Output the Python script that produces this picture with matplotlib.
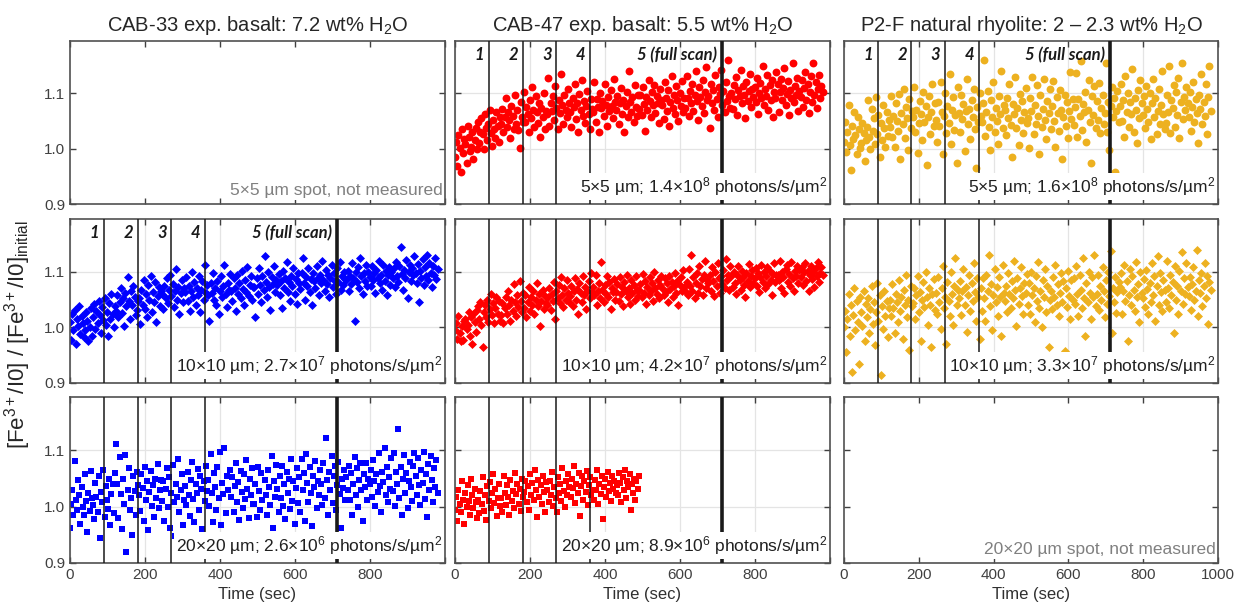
import matplotlib.pyplot as plt
import numpy as np

plt.rcParams['font.family'] = 'Liberation Sans'
plt.rcParams['mathtext.fontset'] = 'custom'
plt.rcParams['mathtext.rm'] = 'Liberation Sans'
plt.rcParams['mathtext.it'] = 'Liberation Sans:italic'
plt.rcParams['mathtext.bf'] = 'Liberation Sans:bold'

# run lengths (sec); CAB-47 20x20 run stopped early
full_run = 980
short_run = 490

# Fe3+/I0 normalised to initial value (one row ~ 61 s)
cab47_5um = [
    0.985, 1.012, 0.968, 1.025, 1.002, 0.958, 1.035, 0.992, 1.018, 1.008, 0.975, 1.042, 1.021, 0.996, 1.004, 1.030, 0.982, 1.015, 1.038, 1.000,
    1.048, 1.010, 1.030, 1.055, 1.026, 0.999, 1.062, 1.038, 1.015, 1.045, 1.070, 1.028, 1.005, 1.052, 1.035, 1.020, 1.066, 1.042, 1.012, 1.058,
    1.045, 1.072, 1.030, 1.058, 1.091, 1.040, 1.066, 1.052, 1.020, 1.078, 1.060, 1.036, 1.098, 1.044, 1.070, 1.034, 1.001, 1.085, 1.057, 1.048,
    1.103, 1.048, 1.076, 1.062, 1.030, 1.088, 1.055, 1.112, 1.070, 1.040, 1.095, 1.066, 1.047, 1.082, 1.021, 1.073, 1.058, 1.101, 1.035, 1.068,
    1.062, 1.128, 1.041, 1.083, 1.069, 1.095, 1.052, 1.113, 1.074, 1.036, 1.088, 1.064, 1.135, 1.079, 1.045, 1.097, 1.070, 1.058, 1.108, 1.083,
    1.066, 1.040, 1.092, 1.075, 1.118, 1.054, 1.083, 1.030, 1.099, 1.071, 1.125, 1.060, 1.087, 1.046, 1.078, 1.104, 1.063, 1.035, 1.090, 1.072,
    1.066, 1.121, 1.048, 1.090, 1.076, 1.031, 1.101, 1.073, 1.087, 1.059, 1.117, 1.080, 1.042, 1.094, 1.069, 1.106, 1.078, 1.055, 1.126, 1.085,
    1.070, 1.096, 1.044, 1.082, 1.110, 1.063, 1.088, 1.031, 1.077, 1.102, 1.058, 1.140, 1.084, 1.067, 1.093, 1.049, 1.115, 1.075, 1.060, 1.098,
    1.072, 1.098, 1.061, 1.112, 1.081, 1.033, 1.093, 1.070, 1.124, 1.086, 1.057, 1.103, 1.079, 1.116, 1.065, 1.095, 1.083, 1.047, 1.109, 1.088,
    1.080, 1.054, 1.120, 1.091, 1.068, 1.106, 1.042, 1.085, 1.131, 1.074, 1.097, 1.062, 1.113, 1.089, 1.050, 1.100, 1.077, 1.123, 1.066, 1.092,
    1.074, 1.132, 1.091, 1.060, 1.105, 1.082, 1.118, 1.069, 1.097, 1.140, 1.086, 1.052, 1.111, 1.093, 1.077, 1.125, 1.064, 1.102, 1.148, 1.088,
    1.095, 1.038, 1.117, 1.083, 1.106, 1.071, 1.134, 1.090, 1.058, 1.112, 1.099, 1.143, 1.079, 1.104, 1.066, 1.121, 1.087, 1.160, 1.095, 1.073,
    1.100, 1.072, 1.116, 1.090, 1.130, 1.061, 1.107, 1.095, 1.142, 1.082, 1.113, 1.098, 1.055, 1.121, 1.087, 1.104, 1.136, 1.075, 1.109, 1.093,
    1.112, 1.085, 1.128, 1.063, 1.101, 1.119, 1.092, 1.150, 1.079, 1.108, 1.096, 1.133, 1.070, 1.115, 1.088, 1.124, 1.058, 1.103, 1.091, 1.138,
    1.118, 1.066, 1.103, 1.127, 1.088, 1.110, 1.146, 1.079, 1.099, 1.122, 1.061, 1.107, 1.092, 1.155, 1.084, 1.113, 1.097, 1.128, 1.069, 1.105,
    1.094, 1.125, 1.076, 1.110, 1.139, 1.089, 1.117, 1.064, 1.102, 1.131, 1.085, 1.156, 1.098, 1.120, 1.073, 1.108, 1.134, 1.091, 1.114, 1.102,
]
p2f_5um = [
    1.012, 1.048, 0.995, 1.031, 1.080, 1.006, 0.962, 1.042, 1.018, 1.067, 1.025, 0.990, 1.058, 1.035, 1.002, 1.010, 1.046, 1.029, 0.978, 1.015,
    1.040, 1.088, 1.021, 0.999, 1.072, 1.033, 1.055, 1.008, 1.094, 1.026, 1.061, 0.985, 1.047, 1.015, 1.079, 1.038, 1.003, 1.066, 1.023, 1.052,
    1.040, 1.095, 1.021, 1.060, 1.003, 1.083, 1.050, 1.032, 1.099, 0.982, 1.064, 1.044, 1.108, 1.019, 1.075, 1.055, 0.998, 1.090, 1.037, 1.068,
    1.058, 1.112, 1.030, 1.071, 0.992, 1.046, 1.087, 1.062, 1.015, 1.103, 1.049, 1.078, 0.970, 1.057, 1.095, 1.026, 1.066, 1.118, 1.041, 1.083,
    1.052, 1.012, 1.085, 1.041, 1.120, 1.066, 0.990, 1.059, 1.100, 1.028, 1.077, 1.046, 1.135, 1.008, 1.070, 1.093, 1.034, 1.061, 0.975, 1.112,
    1.064, 1.030, 1.097, 1.053, 1.081, 0.996, 1.068, 1.126, 1.044, 1.072, 1.018, 1.089, 1.057, 1.108, 1.035, 0.965, 1.076, 1.049, 1.101, 1.060,
    1.048, 1.082, 1.160, 1.023, 1.067, 1.105, 1.040, 0.998, 1.088, 1.058, 1.121, 1.031, 1.074, 1.050, 1.009, 1.096, 1.063, 1.140, 1.037, 1.079,
    1.070, 1.024, 1.092, 1.056, 1.117, 1.043, 0.985, 1.081, 1.062, 1.130, 1.038, 1.074, 1.007, 1.099, 1.052, 1.086, 1.029, 1.066, 1.110, 1.047,
    1.055, 1.002, 1.091, 1.068, 1.130, 1.026, 1.080, 1.045, 1.115, 1.060, 0.990, 1.098, 1.039, 1.072, 1.126, 1.052, 1.017, 1.086, 1.064, 1.108,
    1.036, 1.078, 1.122, 1.050, 1.004, 1.093, 1.065, 1.033, 1.107, 1.071, 0.982, 1.058, 1.097, 1.042, 1.084, 1.020, 1.069, 1.138, 1.054, 1.090,
    1.043, 1.075, 1.137, 1.021, 1.090, 1.059, 1.158, 1.034, 1.081, 1.066, 1.102, 1.012, 1.070, 1.124, 1.048, 0.975, 1.095, 1.061, 1.113, 1.038,
    1.087, 1.052, 1.119, 1.028, 1.073, 1.098, 1.045, 1.064, 1.156, 1.031, 1.085, 0.998, 1.077, 1.112, 1.057, 1.091, 0.958, 1.068, 1.104, 1.049,
    1.078, 1.118, 1.050, 1.089, 1.022, 1.132, 1.067, 1.101, 1.040, 1.084, 1.062, 1.145, 1.030, 1.092, 1.071, 1.010, 1.106, 1.056, 1.125, 1.083,
    1.061, 1.095, 1.037, 1.114, 1.072, 1.048, 1.100, 1.017, 1.083, 1.127, 1.058, 1.091, 1.026, 1.069, 1.109, 1.044, 1.080, 1.140, 1.063, 1.035,
    1.047, 1.097, 1.066, 1.150, 1.028, 1.088, 1.074, 1.115, 1.040, 1.102, 1.061, 1.128, 1.019, 1.085, 1.155, 1.053, 1.094, 1.070, 1.111, 1.082,
    1.058, 1.103, 1.032, 1.076, 1.121, 1.049, 1.090, 1.065, 1.010, 1.098, 1.072, 1.135, 1.044, 1.084, 1.060, 1.117, 1.026, 1.093, 1.150, 1.069,
]
cab33_10um = [
    1.010, 0.978, 1.025, 0.995, 1.032, 0.970, 1.015, 1.003, 1.038, 0.988, 1.020, 1.008, 0.982, 0.996, 1.028, 1.012, 0.975, 1.001, 1.035, 0.985,
    1.018, 1.042, 0.998, 1.030, 1.008, 1.047, 1.022, 0.990, 1.036, 1.014, 1.052, 1.004, 1.027, 0.985, 1.044, 1.016, 1.060, 1.024, 1.000, 1.038,
    1.030, 1.058, 1.018, 1.045, 1.070, 1.026, 1.052, 1.003, 1.062, 1.038, 1.090, 1.048, 1.015, 1.066, 1.040, 1.075, 1.055, 1.022, 1.032, 1.047,
    1.052, 1.006, 1.068, 1.041, 1.085, 1.034, 1.060, 1.019, 1.077, 1.050, 1.092, 1.028, 1.064, 1.045, 1.082, 1.010, 1.056, 1.072, 1.038, 1.066,
    1.060, 1.033, 1.074, 1.052, 1.088, 1.044, 1.068, 1.095, 1.057, 1.078, 1.036, 1.065, 1.105, 1.050, 1.072, 1.024, 1.061, 1.085, 1.046, 1.070,
    1.063, 1.090, 1.048, 1.075, 1.030, 1.066, 1.100, 1.054, 1.081, 1.040, 1.071, 1.058, 1.093, 1.027, 1.067, 1.084, 1.050, 1.113, 1.062, 1.076,
    1.058, 1.012, 1.079, 1.062, 1.098, 1.050, 1.070, 1.041, 1.083, 1.025, 1.066, 1.092, 1.055, 1.075, 1.112, 1.060, 1.036, 1.080, 1.067, 1.096,
    1.065, 1.047, 1.088, 1.071, 1.030, 1.094, 1.060, 1.079, 1.053, 1.102, 1.069, 1.040, 1.085, 1.064, 1.108, 1.056, 1.077, 1.093, 1.049, 1.073,
    1.072, 1.018, 1.089, 1.060, 1.106, 1.077, 1.045, 1.093, 1.067, 1.128, 1.082, 1.055, 1.100, 1.073, 1.031, 1.090, 1.078, 1.110, 1.063, 1.086,
    1.076, 1.096, 1.058, 1.084, 1.035, 1.101, 1.070, 1.089, 1.117, 1.064, 1.081, 1.048, 1.093, 1.074, 1.107, 1.060, 1.087, 1.042, 1.098, 1.079,
    1.069, 1.097, 1.124, 1.080, 1.050, 1.091, 1.075, 1.106, 1.063, 1.087, 1.040, 1.098, 1.083, 1.071, 1.110, 1.088, 1.058, 1.095, 1.079, 1.120,
    1.085, 1.066, 1.103, 1.078, 1.094, 1.055, 1.089, 1.112, 1.072, 1.097, 1.083, 1.060, 1.107, 1.081, 1.118, 1.068, 1.092, 1.076, 1.100, 1.087,
    1.085, 1.102, 1.066, 1.093, 1.078, 1.116, 1.089, 1.012, 1.099, 1.081, 1.108, 1.070, 1.125, 1.092, 1.060, 1.097, 1.084, 1.113, 1.075, 1.100,
    1.091, 1.074, 1.110, 1.086, 1.098, 1.062, 1.104, 1.088, 1.120, 1.079, 1.095, 1.067, 1.113, 1.083, 1.101, 1.058, 1.094, 1.108, 1.077, 1.099,
    1.088, 1.106, 1.072, 1.118, 1.093, 1.081, 1.110, 1.145, 1.096, 1.068, 1.103, 1.088, 1.121, 1.052, 1.099, 1.112, 1.084, 1.107, 1.094, 1.128,
    1.097, 1.080, 1.114, 1.045, 1.102, 1.089, 1.123, 1.076, 1.108, 1.092, 1.130, 1.085, 1.116, 1.098, 1.072, 1.111, 1.094, 1.125, 1.087, 1.105,
]
cab47_10um = [
    0.995, 1.008, 0.980, 1.020, 0.990, 0.975, 1.002, 0.978, 1.012, 1.015, 0.998, 1.005, 1.027, 0.985, 1.018, 0.970, 1.025, 1.010, 0.992, 1.032,
    1.038, 1.015, 1.045, 1.005, 0.965, 1.027, 1.040, 1.018, 1.050, 1.010, 1.033, 1.060, 1.022, 1.044, 1.008, 1.035, 1.055, 1.025, 1.048, 1.012,
    1.022, 1.044, 1.008, 1.035, 1.055, 1.025, 1.065, 1.040, 1.012, 1.050, 1.030, 1.078, 1.045, 1.020, 1.058, 1.037, 1.083, 1.048, 1.028, 1.062,
    1.035, 1.058, 1.018, 1.046, 1.072, 1.030, 1.054, 1.040, 1.066, 1.025, 1.050, 1.080, 1.038, 1.060, 1.002, 1.047, 1.068, 1.033, 1.056, 1.044,
    1.040, 1.055, 1.070, 1.032, 1.060, 1.048, 1.082, 1.015, 1.066, 1.052, 1.076, 1.044, 1.090, 1.058, 1.036, 1.070, 1.050, 1.085, 1.062, 1.046,
    1.057, 1.074, 1.038, 1.065, 1.088, 1.050, 1.069, 1.025, 1.079, 1.061, 1.045, 1.092, 1.059, 1.072, 1.034, 1.066, 1.083, 1.052, 1.098, 1.063,
    1.072, 1.058, 1.094, 1.040, 1.066, 1.080, 1.052, 1.118, 1.068, 1.045, 1.076, 1.060, 1.092, 1.055, 1.082, 1.034, 1.070, 1.063, 1.087, 1.050,
    1.064, 1.078, 1.048, 1.090, 1.060, 1.073, 1.038, 1.082, 1.066, 1.095, 1.054, 1.070, 1.043, 1.086, 1.061, 1.076, 1.050, 1.092, 1.068, 1.057,
    1.068, 1.078, 1.055, 1.096, 1.062, 1.084, 1.042, 1.073, 1.058, 1.090, 1.066, 1.080, 1.048, 1.100, 1.070, 1.060, 1.085, 1.052, 1.076, 1.093,
    1.071, 1.058, 1.088, 1.064, 1.079, 1.046, 1.092, 1.069, 1.082, 1.055, 1.074, 1.097, 1.061, 1.084, 1.040, 1.077, 1.090, 1.066, 1.103, 1.072,
    1.065, 1.082, 1.058, 1.105, 1.074, 1.130, 1.066, 1.090, 1.052, 1.080, 1.098, 1.062, 1.110, 1.075, 1.087, 1.058, 1.095, 1.120, 1.070, 1.085,
    1.079, 1.094, 1.066, 1.108, 1.083, 1.057, 1.099, 1.074, 1.115, 1.088, 1.062, 1.093, 1.078, 1.104, 1.070, 1.123, 1.086, 1.095, 1.067, 1.110,
    1.092, 1.072, 1.100, 1.080, 1.060, 1.095, 1.110, 1.085, 1.068, 1.102, 1.090, 1.076, 1.055, 1.098, 1.083, 1.114, 1.072, 1.092, 1.104, 1.080,
    1.088, 1.106, 1.075, 1.097, 1.063, 1.090, 1.112, 1.082, 1.099, 1.070, 1.093, 1.108, 1.078, 1.101, 1.085, 1.058, 1.096, 1.116, 1.081, 1.094,
    1.095, 1.085, 1.120, 1.070, 1.100, 1.090, 1.062, 1.105, 1.112, 1.082, 1.096, 1.075, 1.118, 1.088, 1.065, 1.102, 1.093, 1.110, 1.080, 1.104,
    1.090, 1.108, 1.076, 1.099, 1.115, 1.084, 1.102, 1.066, 1.094, 1.111, 1.087, 1.100, 1.073, 1.106, 1.092, 1.117, 1.081, 1.098, 1.109, 1.095,
]
p2f_10um = [
    1.000, 1.030, 0.955, 1.015, 1.060, 0.985, 1.040, 0.920, 1.022, 1.070, 0.995, 1.048, 1.010, 0.935, 1.055, 1.028, 1.003, 1.065, 0.975, 1.042,
    1.018, 1.052, 0.990, 1.034, 1.075, 1.006, 1.045, 0.968, 1.027, 1.080, 1.012, 1.058, 0.915, 1.038, 0.998, 1.066, 1.021, 1.047, 0.982, 1.035,
    1.050, 1.020, 1.078, 1.035, 0.990, 1.060, 1.045, 1.010, 1.085, 1.030, 1.055, 0.980, 1.068, 1.040, 1.095, 1.018, 1.050, 0.960, 1.075, 1.038,
    1.044, 1.070, 1.015, 1.058, 1.092, 1.028, 1.063, 0.975, 1.049, 1.082, 1.036, 1.100, 1.054, 1.005, 1.071, 1.040, 0.965, 1.060, 1.087, 1.032,
    1.062, 1.025, 1.090, 1.045, 0.998, 1.070, 1.110, 1.035, 1.055, 0.970, 1.082, 1.048, 1.020, 1.100, 1.060, 1.005, 1.075, 1.125, 1.040, 1.068,
    1.052, 1.084, 1.022, 1.066, 1.105, 1.041, 1.073, 0.992, 1.058, 1.094, 1.030, 1.079, 1.048, 1.115, 1.063, 1.012, 1.088, 1.055, 0.980, 1.070,
    1.030, 1.088, 1.052, 1.012, 1.095, 1.065, 1.130, 1.038, 1.078, 0.995, 1.058, 1.105, 1.045, 1.072, 1.020, 1.090, 1.055, 0.985, 1.112, 1.062,
    1.047, 1.075, 1.028, 1.097, 1.060, 1.035, 1.083, 1.052, 1.120, 1.068, 1.002, 1.088, 1.043, 1.070, 1.108, 1.056, 1.025, 1.080, 1.061, 1.096,
    1.040, 1.080, 1.025, 1.100, 1.058, 1.070, 1.010, 1.092, 1.048, 1.118, 1.035, 1.065, 1.000, 1.085, 1.055, 1.105, 1.028, 1.075, 0.965, 1.050,
    1.066, 1.033, 1.090, 1.054, 1.112, 1.041, 1.078, 1.020, 1.062, 1.098, 1.046, 1.083, 0.958, 1.070, 1.037, 1.101, 1.057, 1.015, 1.086, 1.049,
    1.088, 1.042, 1.110, 1.060, 1.020, 1.095, 1.068, 1.035, 1.125, 1.052, 0.985, 1.080, 1.045, 1.100, 1.062, 1.015, 1.090, 1.055, 1.130, 1.038,
    1.060, 1.095, 1.032, 1.074, 1.050, 1.108, 1.066, 1.018, 1.085, 1.043, 1.099, 1.057, 1.138, 0.990, 1.071, 1.045, 1.090, 1.026, 1.064, 1.082,
    1.072, 1.098, 1.025, 1.065, 1.112, 1.048, 1.083, 0.975, 1.058, 1.105, 1.040, 1.092, 1.068, 1.030, 1.118, 1.055, 1.078, 1.010, 1.100, 1.062,
    1.053, 1.087, 1.036, 1.103, 1.069, 1.024, 1.080, 1.046, 1.115, 1.058, 1.092, 1.012, 1.074, 1.128, 1.041, 1.097, 1.063, 1.030, 1.085, 1.067,
    1.045, 1.120, 1.070, 1.035, 1.095, 1.058, 1.082, 0.990, 1.110, 1.050, 1.075, 1.025, 1.102, 1.065, 1.135, 1.042, 1.088, 1.060, 1.115, 1.072,
    1.056, 1.090, 1.031, 1.078, 1.108, 1.049, 1.066, 1.140, 1.020, 1.085, 1.062, 1.098, 1.038, 1.074, 1.116, 1.052, 1.093, 1.007, 1.081, 1.068,
]
cab33_20um = [
    0.962, 1.005, 1.030, 0.985, 1.082, 1.012, 0.995, 1.048, 1.020, 0.970, 1.035, 1.000, 0.985, 1.058, 1.010, 0.955, 1.025, 0.992, 1.064, 1.015,
    1.003, 0.978, 1.042, 1.018, 0.990, 1.055, 0.945, 1.027, 1.008, 1.066, 0.982, 1.036, 1.012, 0.996, 1.050, 0.968, 1.022, 1.040, 0.988, 1.060,
    1.112, 1.040, 0.980, 1.088, 1.022, 0.960, 1.050, 1.005, 1.092, 0.920, 1.030, 1.068, 0.995, 1.015, 0.950, 1.055, 1.028, 0.985, 1.062, 1.038,
    1.020, 0.992, 1.058, 1.033, 0.975, 1.070, 1.012, 1.045, 0.958, 1.026, 1.064, 1.002, 1.038, 0.982, 1.050, 1.015, 1.076, 0.998, 1.030, 1.047,
    1.010, 1.045, 0.975, 1.032, 1.068, 1.000, 1.052, 0.962, 1.025, 1.075, 1.008, 0.948, 1.040, 1.018, 1.085, 0.990, 1.030, 1.058, 0.968, 1.012,
    1.036, 1.003, 1.062, 1.021, 0.984, 1.048, 1.079, 1.014, 0.972, 1.041, 1.025, 1.067, 0.995, 1.055, 1.031, 0.960, 1.046, 1.010, 1.072, 1.028,
    1.048, 1.002, 1.093, 1.025, 0.972, 1.060, 1.035, 0.995, 1.070, 1.015, 1.098, 0.968, 1.042, 1.022, 1.105, 0.988, 1.055, 1.030, 0.950, 1.065,
    1.018, 1.052, 0.990, 1.036, 1.078, 1.008, 1.044, 0.976, 1.063, 1.027, 0.998, 1.058, 1.014, 1.083, 1.032, 0.980, 1.049, 1.021, 1.068, 1.004,
    1.005, 1.040, 0.982, 1.070, 1.028, 0.995, 1.060, 1.012, 0.945, 1.048, 1.020, 0.985, 1.065, 1.035, 1.003, 1.090, 0.962, 1.045, 1.018, 1.075,
    1.032, 0.990, 1.055, 1.016, 1.073, 1.002, 1.040, 0.978, 1.062, 1.024, 1.050, 0.996, 1.085, 1.011, 1.046, 0.970, 1.034, 1.068, 1.006, 1.053,
    0.990, 1.085, 1.030, 1.060, 0.975, 1.093, 1.042, 1.008, 1.070, 1.025, 0.965, 1.055, 1.035, 1.082, 0.998, 1.045, 1.020, 1.065, 1.040, 1.003,
    1.078, 1.015, 1.123, 1.048, 0.985, 1.062, 1.030, 1.090, 1.007, 1.055, 1.072, 0.995, 1.038, 1.080, 1.022, 0.962, 1.050, 1.034, 1.066, 1.012,
    1.052, 1.030, 1.072, 1.012, 1.060, 0.985, 1.040, 1.088, 1.020, 1.068, 1.000, 1.048, 1.078, 1.030, 0.975, 1.058, 1.035, 1.078, 1.012, 1.050,
    1.040, 1.066, 1.018, 1.083, 1.045, 1.002, 1.058, 1.027, 1.095, 1.036, 0.990, 1.062, 1.044, 1.105, 1.021, 1.070, 1.008, 1.052, 1.031, 1.087,
    1.028, 1.095, 1.002, 1.062, 1.040, 1.138, 1.015, 1.070, 0.985, 1.050, 1.092, 1.025, 1.060, 0.998, 1.045, 1.080, 1.035, 1.010, 1.072, 1.095,
    1.054, 1.020, 1.086, 1.038, 1.003, 1.065, 1.042, 1.097, 1.013, 1.058, 0.982, 1.076, 1.030, 1.090, 1.047, 1.008, 1.068, 1.035, 1.083, 1.025,
]
cab47_20um = [
    0.995, 1.018, 0.975, 1.030, 1.005, 0.990, 1.045, 1.012, 0.970, 1.025, 1.000, 1.038, 1.010, 0.985, 1.050, 1.020, 0.998, 1.032, 1.008, 0.980,
    1.012, 0.988, 1.028, 1.004, 1.052, 0.993, 1.020, 0.976, 1.036, 1.010, 1.044, 0.998, 1.025, 1.058, 1.006, 1.032, 0.984, 1.016, 1.040, 1.002,
    1.015, 0.990, 1.055, 1.025, 1.003, 1.038, 1.018, 0.985, 1.048, 1.010, 1.028, 0.998, 1.060, 1.022, 1.040, 1.005, 1.032, 0.992, 1.050, 1.018,
    1.026, 1.045, 1.008, 1.036, 0.995, 1.058, 1.021, 1.042, 1.012, 1.066, 1.030, 0.982, 1.048, 1.017, 1.038, 1.004, 1.054, 1.027, 0.990, 1.044,
    1.030, 1.008, 1.045, 1.020, 1.062, 1.002, 1.035, 1.015, 0.990, 1.052, 1.025, 1.040, 1.010, 1.068, 1.028, 1.000, 1.045, 1.020, 1.058, 1.035,
    1.018, 1.050, 1.033, 1.072, 1.006, 1.041, 1.024, 1.060, 0.984, 1.037, 1.055, 1.012, 1.046, 1.027, 1.064, 1.003, 1.039, 1.052, 1.020, 1.030,
    1.012, 1.048, 1.030, 1.065, 1.005, 1.040, 1.022, 1.055, 0.978, 1.035, 1.050, 1.018, 1.062, 1.028, 1.042, 1.010, 1.055, 1.032, 1.045, 1.025,
    1.038, 1.020, 1.060, 1.042, 1.008, 1.052, 1.030, 1.066, 1.015, 1.045, 1.035, 1.058, 0.995, 1.040, 1.025, 1.050, 1.012, 1.046, 1.032, 1.055,
]

titles = ["CAB-33 exp. basalt: 7.2 wt% H$_2$O",
          "CAB-47 exp. basalt: 5.5 wt% H$_2$O",
          "P2-F natural rhyolite: 2 \u2013 2.3 wt% H$_2$O"]

# scan boundaries (sec) and their labels
scan_times = [90, 180, 270, 360, 711]
scan_labels = ["1", "2", "3", "4", "5 (full scan)"]

# rows: 5x5, 10x10, 20x20 um spots; cols: CAB-33, CAB-47, P2-F
series = [
    [None, (cab47_5um, full_run), (p2f_5um, full_run)],
    [(cab33_10um, full_run), (cab47_10um, full_run), (p2f_10um, full_run)],
    [(cab33_20um, full_run), (cab47_20um, short_run), None],
]
notes = [
    ["5\u00d75 \u00b5m spot, not measured",
     "5\u00d75 \u00b5m; 1.4\u00d710$^8$ photons/s/\u00b5m$^2$",
     "5\u00d75 \u00b5m; 1.6\u00d710$^8$ photons/s/\u00b5m$^2$"],
    ["10\u00d710 \u00b5m; 2.7\u00d710$^7$ photons/s/\u00b5m$^2$",
     "10\u00d710 \u00b5m; 4.2\u00d710$^7$ photons/s/\u00b5m$^2$",
     "10\u00d710 \u00b5m; 3.3\u00d710$^7$ photons/s/\u00b5m$^2$"],
    ["20\u00d720 \u00b5m; 2.6\u00d710$^6$ photons/s/\u00b5m$^2$",
     "20\u00d720 \u00b5m; 8.9\u00d710$^6$ photons/s/\u00b5m$^2$",
     "20\u00d720 \u00b5m spot, not measured"],
]
labelled = [(0, 1), (0, 2), (1, 0)]

colors = ["#0000ff", "#ff0000", "#edb120"]
markers = [("o", 32), ("D", 21), ("s", 21)]

W, H = 1238, 608
cols_px = [(70, 445), (455, 830), (844, 1218)]
rows_px = [(41, 204), (219, 383), (397, 563)]

fig = plt.figure(figsize=(W / 100, H / 100), dpi=100)

for r in range(3):
    for c in range(3):
        l, rr = cols_px[c]
        t, b = rows_px[r]
        ax = fig.add_axes([l / W, 1 - b / H, (rr - l) / W, (b - t) / H])
        ax.set_xlim(0, 1000)
        ax.set_ylim(0.9, 1.195)
        ax.set_xticks([0, 200, 400, 600, 800, 1000])
        ax.set_yticks([0.9, 1.0, 1.1])
        ax.tick_params(direction="in", top=True, right=True, length=4, width=1,
                       color="#404040", labelsize=11, labelcolor="#404040")
        for s in ax.spines.values():
            s.set_color("#505050")
            s.set_linewidth(1.2)
        if c == 0:
            ax.set_yticklabels(["0.9", "1.0", "1.1"])
        else:
            ax.set_yticklabels([])
        if r == 2:
            lab = ["0", "200", "400", "600", "800", "1000" if c == 2 else ""]
            ax.set_xticklabels(lab)
            ax.set_xlabel("Time (sec)", fontsize=12, color="#303030", labelpad=4)
        else:
            ax.set_xticklabels([])

        note_color = "#202020"
        if series[r][c] is None:
            note_color = "#808080"
        else:
            vals, end = series[r][c]
            tt = np.linspace(0, end, len(vals))
            ax.grid(True, color="#e4e4e4", lw=0.9)
            ax.set_axisbelow(True)
            m, ms = markers[r]
            ax.scatter(tt, vals, s=ms, marker=m, color=colors[c], linewidths=0, zorder=2)
            for i, x in enumerate(scan_times):
                lw = 2.6 if i == len(scan_times) - 1 else 1.1
                ax.axvline(x, color="#1a1a1a", lw=lw, zorder=3)
            if (r, c) in labelled:
                for x, s in zip(scan_times, scan_labels):
                    ax.text(x - 12, 0.915, s, transform=ax.get_xaxis_transform(),
                            ha="right", va="center", fontsize=12, fontfamily="Lato",
                            fontweight="bold", fontstyle="italic", color="#1a1a1a", zorder=4)

        ax.text(0.993, 0.035, notes[r][c], transform=ax.transAxes, ha="right", va="bottom",
                fontsize=12.5, color=note_color, zorder=5,
                bbox=dict(facecolor="white", edgecolor="none", pad=1.5))

        if r == 0:
            ax.set_title(titles[c], fontsize=14.5, color="#262626", pad=7)

fig.text(0.0145, 0.45, "[Fe$^{3+}$/I0] / [Fe$^{3+}$/I0]$_{\\mathrm{initial}}$",
         rotation=90, ha="center", va="center", fontsize=16, color="#262626")

fig.savefig("out.png", dpi=100)
